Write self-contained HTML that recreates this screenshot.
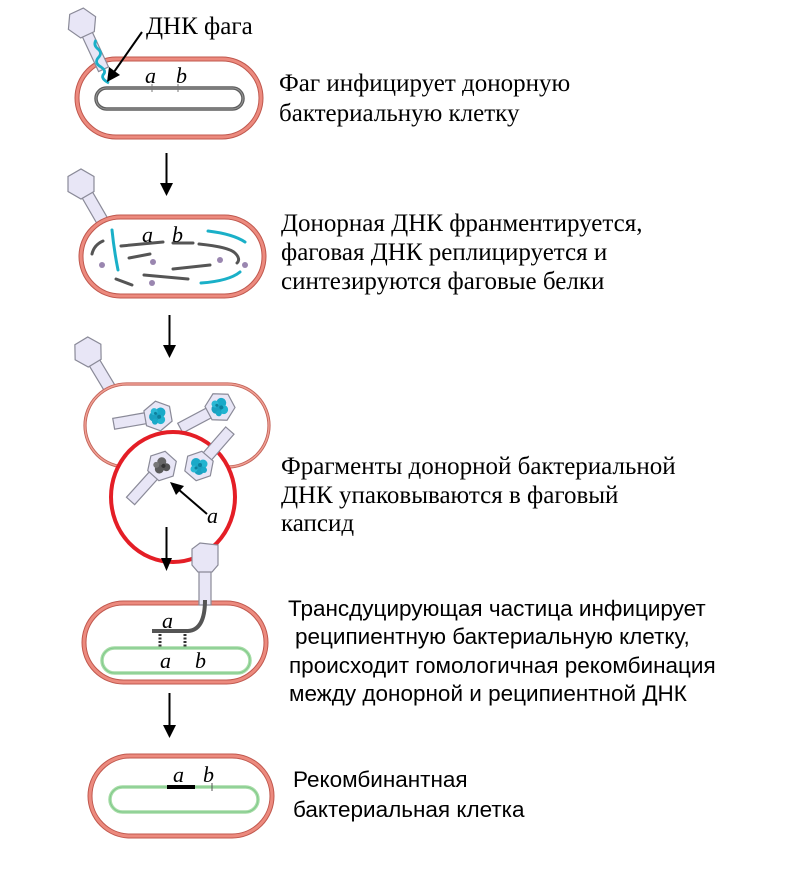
<!DOCTYPE html>
<html><head><meta charset="utf-8"><style>
html,body{margin:0;padding:0;background:#fff;}
svg{display:block;}
.t{font-family:"Liberation Serif","Noto Serif CJK SC",serif;font-size:25px;fill:#000;}
.s{font-family:"Liberation Sans","Noto Sans CJK SC",sans-serif;font-size:22.5px;fill:#000;}
.l{font-family:"Liberation Serif",serif;font-style:italic;font-size:22px;fill:#000;}
</style></head><body>
<svg width="802" height="876" viewBox="0 0 802 876" xmlns="http://www.w3.org/2000/svg">
<defs>
<g id="head"><polygon points="15,0 7.5,13 -7.5,13 -15,0 -7.5,-13 7.5,-13" fill="#e8e6f6" stroke="#8a8a98" stroke-width="1.2"/></g>
<g id="blue"><circle cx="-3" cy="-3" r="5" fill="#1aa9c8"/><circle cx="4" cy="-2" r="4.5" fill="#22b4d0"/><circle cx="0" cy="4" r="5" fill="#1aa0c0"/><circle cx="-5" cy="3" r="3.5" fill="#2ab8d4"/><circle cx="5" cy="4" r="3" fill="#1aa9c8"/><circle cx="1" cy="-1" r="2" fill="#0e7f9c"/><circle cx="-3" cy="2" r="1.5" fill="#0e7f9c"/></g>
<g id="gray"><circle cx="-3" cy="-3" r="4.5" fill="#666"/><circle cx="4" cy="-2" r="4" fill="#555"/><circle cx="0" cy="4" r="4.5" fill="#5a5a5a"/><circle cx="-5" cy="3" r="3" fill="#777"/><circle cx="1" cy="-1" r="2" fill="#333"/></g>
</defs>

<!-- ===== Cell 1 ===== -->
<rect x="77" y="59" width="184" height="78" rx="39" fill="#fff" stroke="#c0584e" stroke-width="5"/>
<rect x="77" y="59" width="184" height="78" rx="39" fill="none" stroke="#ec8a7e" stroke-width="3"/>
<rect x="96" y="88" width="147" height="21" rx="10.5" fill="none" stroke="#5e5e5e" stroke-width="3.5"/>
<rect x="96" y="88" width="147" height="21" rx="10.5" fill="none" stroke="#9a9a9a" stroke-width="1"/>
<line x1="152" y1="84" x2="152" y2="92" stroke="#777" stroke-width="1"/>
<line x1="178" y1="84" x2="178" y2="92" stroke="#777" stroke-width="1"/>
<text class="l" x="145" y="83">a</text>
<text class="l" x="176" y="83">b</text>
<!-- phage 1 -->
<g transform="translate(82,23) rotate(-25)">
<rect x="-5.5" y="11" width="11" height="40" fill="#e8e6f6" stroke="#8a8a98" stroke-width="1.2"/>
<use href="#head"/>
</g>
<path d="M96,40 q-3,5 2,9 q5,4 0,9 q-4,5 3,9 q6,4 2,8 q-2,4 6,8" fill="none" stroke="#1ab0c8" stroke-width="2.8"/>
<!-- arrow DNK faga -->
<line x1="142" y1="32" x2="114" y2="72" stroke="#000" stroke-width="2"/>
<polygon points="107,82 109,67 120,75" fill="#000"/>
<text class="t" x="146" y="34">ДНК фага</text>

<text class="t" x="279" y="91">Фаг инфицирует донорную</text>
<text class="t" x="279" y="121">бактериальную клетку</text>

<!-- arrow 1 -->
<line x1="166.5" y1="153" x2="166.5" y2="185" stroke="#000" stroke-width="2"/>
<polygon points="160,183 173,183 166.5,196" fill="#000"/>

<!-- ===== Cell 2 ===== -->
<g transform="translate(81,184) rotate(-30)">
<rect x="-6" y="11" width="12" height="36" fill="#e8e6f6" stroke="#8a8a98" stroke-width="1.2"/>
<use href="#head"/>
</g>
<rect x="81" y="217" width="183" height="79" rx="39.5" fill="#fff" stroke="#c0584e" stroke-width="5"/>
<rect x="81" y="217" width="183" height="79" rx="39.5" fill="none" stroke="#ec8a7e" stroke-width="3"/>
<g fill="none" stroke="#555" stroke-width="3" stroke-linecap="round">
<path d="M92,254 q2,-9 11,-13"/>
<path d="M121,246 L163,242"/>
<path d="M173,243 L193,243"/>
<path d="M199,244 q30,3 36,9 q6,6 2,10"/>
<path d="M129,258 L150,254"/>
<path d="M173,269 L210,265"/>
<path d="M144,275 L188,279"/>
<path d="M116,279 L132,285"/>
</g>
<g fill="none" stroke="#1ab0c8" stroke-width="3" stroke-linecap="round">
<path d="M112,230 q2,20 6,40"/>
<path d="M208,231 q25,3 37,11"/>
<path d="M201,283 q28,-2 39,-11"/>
</g>
<g fill="#9a86b0">
<circle cx="102" cy="265" r="3"/><circle cx="153" cy="262" r="3"/><circle cx="220" cy="260" r="3"/><circle cx="245" cy="265" r="3"/><circle cx="152" cy="283" r="3"/>
</g>
<text class="l" x="142" y="242">a</text>
<text class="l" x="172" y="242">b</text>

<text class="t" x="281" y="231">Донорная ДНК франментируется,</text>
<text class="t" x="281" y="260">фаговая ДНК реплицируется и</text>
<text class="t" x="281" y="289">синтезируются фаговые белки</text>

<!-- arrow 2 -->
<line x1="169.5" y1="315" x2="169.5" y2="347" stroke="#000" stroke-width="2"/>
<polygon points="163,345 176,345 169.5,358" fill="#000"/>

<!-- ===== Cell 3 ===== -->
<g transform="translate(88,352) rotate(-31)">
<rect x="-6" y="11" width="12" height="36" fill="#e8e6f6" stroke="#8a8a98" stroke-width="1.2"/>
<use href="#head"/>
</g>
<rect x="85" y="384" width="184" height="83" rx="41.5" fill="#fff" stroke="#c4645a" stroke-width="3.2"/>
<rect x="85" y="384" width="184" height="83" rx="41.5" fill="none" stroke="#f0a094" stroke-width="1.4"/>
<!-- phage A -->
<g transform="translate(158,416) rotate(80)">
<rect x="-5.5" y="11" width="11" height="34" fill="#e8e6f6" stroke="#8a8a98" stroke-width="1.2"/>
<use href="#head"/><use href="#blue"/>
</g>
<!-- phage B -->
<g transform="translate(220,407) rotate(62)">
<rect x="-5.5" y="11" width="11" height="34" fill="#e8e6f6" stroke="#8a8a98" stroke-width="1.2"/>
<use href="#head"/><use href="#blue"/>
</g>
<!-- red circle -->
<ellipse cx="173" cy="497" rx="62" ry="65" fill="#fff" stroke="#e41e26" stroke-width="4"/>
<!-- phage C -->
<g transform="translate(162,466) rotate(42)">
<rect x="-5.5" y="11" width="11" height="36" fill="#e8e6f6" stroke="#8a8a98" stroke-width="1.2"/>
<use href="#head"/><use href="#gray"/>
</g>
<!-- phage D -->
<g transform="translate(199,466) rotate(-139)">
<rect x="-5.5" y="11" width="11" height="36" fill="#e8e6f6" stroke="#8a8a98" stroke-width="1.2"/>
<use href="#head"/>
</g>
<g transform="translate(199,466)"><use href="#blue"/></g>
<!-- arrow to a -->
<line x1="207" y1="514" x2="178" y2="489" stroke="#000" stroke-width="2"/>
<polygon points="170,482 184,486 176,495" fill="#000"/>
<text class="l" x="207" y="523">a</text>

<text class="t" x="281" y="474">Фрагменты донорной бактериальной</text>
<text class="t" x="281" y="503">ДНК упаковываются в фаговый</text>
<text class="t" x="281" y="531">капсид</text>

<!-- arrow 3 -->
<line x1="166.5" y1="527" x2="166.5" y2="560" stroke="#000" stroke-width="2"/>
<polygon points="161,558 172,558 166.5,571" fill="#000"/>

<!-- ===== Cell 4 ===== -->
<rect x="84" y="603" width="182" height="79" rx="39.5" fill="#fff" stroke="#c0584e" stroke-width="5"/>
<rect x="84" y="603" width="182" height="79" rx="39.5" fill="none" stroke="#ec8a7e" stroke-width="3"/>
<g transform="translate(205,559)">
<rect x="-6" y="12" width="12" height="34" fill="#e8e6f6" stroke="#8a8a98" stroke-width="1.2"/>
<polygon points="13,-14 13,6 7,13 -7,13 -13,6 -13,-10 -5,-16" fill="#e8e6f6" stroke="#8a8a98" stroke-width="1.2"/>
</g>
<rect x="102" y="648" width="148" height="25" rx="12.5" fill="none" stroke="#a6dca6" stroke-width="3.5"/>
<rect x="102" y="648" width="148" height="25" rx="12.5" fill="none" stroke="#7fc98a" stroke-width="1"/>
<path d="M205,600 Q205,630 188,631 L152,631" fill="none" stroke="#555" stroke-width="4"/>
<g stroke="#333" stroke-width="3" stroke-dasharray="2,1.5">
<line x1="160" y1="634" x2="160" y2="648"/>
<line x1="185" y1="634" x2="185" y2="648"/>
</g>
<text class="l" x="162" y="628">a</text>
<text class="l" x="160" y="668">a</text>
<text class="l" x="195" y="668">b</text>

<text class="s" x="288" y="616">Трансдуцирующая частица инфицирует</text>
<text class="s" x="295" y="644">реципиентную бактериальную клетку,</text>
<text class="s" x="289" y="673">происходит гомологичная рекомбинация</text>
<text class="s" x="289" y="701">между донорной и реципиентной ДНК</text>

<!-- arrow 4 -->
<line x1="169.5" y1="693" x2="169.5" y2="727" stroke="#000" stroke-width="2"/>
<polygon points="163,725 176,725 169.5,738" fill="#000"/>

<!-- ===== Cell 5 ===== -->
<rect x="90" y="756" width="182" height="80" rx="40" fill="#fff" stroke="#c0584e" stroke-width="5"/>
<rect x="90" y="756" width="182" height="80" rx="40" fill="none" stroke="#ec8a7e" stroke-width="3"/>
<rect x="110" y="787" width="148" height="25" rx="12.5" fill="none" stroke="#a6dca6" stroke-width="3.5"/>
<rect x="110" y="787" width="148" height="25" rx="12.5" fill="none" stroke="#7fc98a" stroke-width="1"/>
<line x1="167" y1="787" x2="195" y2="787" stroke="#000" stroke-width="4"/>
<line x1="212" y1="783" x2="212" y2="791" stroke="#555" stroke-width="1"/>
<text class="l" x="173" y="782">a</text>
<text class="l" x="203" y="782">b</text>

<text class="s" x="293" y="787">Рекомбинантная</text>
<text class="s" x="293" y="817">бактериальная клетка</text>
</svg>
</body></html>
